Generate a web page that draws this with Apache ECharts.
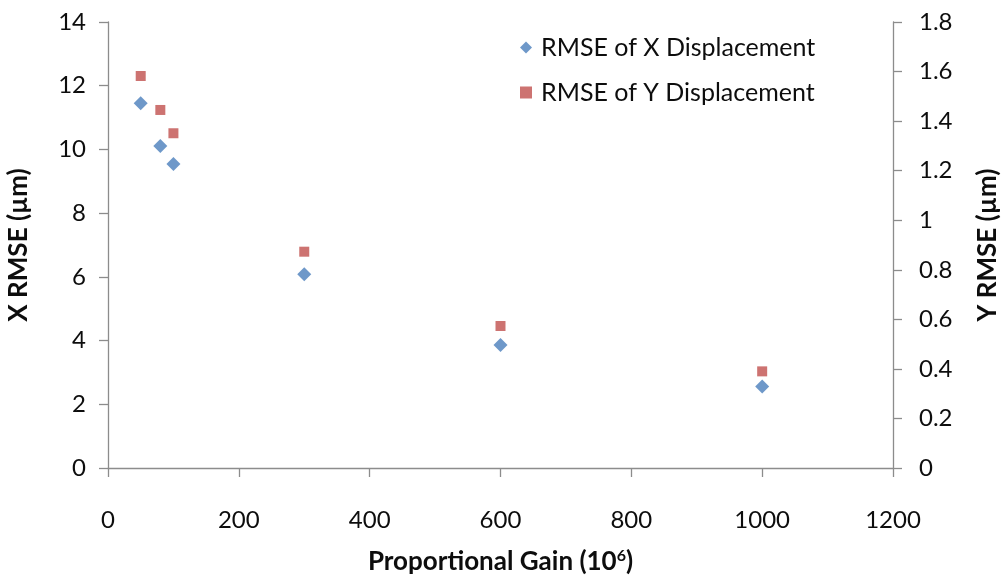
<!DOCTYPE html>
<html>
<head>
<meta charset="utf-8">
<script src="https://cdn.jsdelivr.net/npm/echarts@6/dist/echarts.min.js"></script>
<style>
  html, body { margin: 0; padding: 0; background: #fff; }
  #chart { width: 1007px; height: 579px; }
</style>
</head>
<body>
<div id="chart"></div>
<script>
// Proportional gain (x10^6)
const gains = [50, 80, 100, 300, 600, 1000];
// RMSE of X displacement (µm), left axis
const xRmse = [11.45, 10.11, 9.54, 6.08, 3.86, 2.56];
// RMSE of Y displacement (µm), right axis
const yRmse = [1.582, 1.445, 1.351, 0.873, 0.573, 0.39];

const seriesNames = ['RMSE of X Displacement', 'RMSE of Y Displacement'];

const FONT = 'Lato, "Liberation Sans", sans-serif';
const AXIS_COLOR = '#8c8c8c';
const TEXT_COLOR = '#0d0d0d';

const pairs = (xs, ys) => xs.map((x, i) => [x, ys[i]]);

const axisCommon = {
  axisLine: { show: true, onZero: false, lineStyle: { color: AXIS_COLOR, width: 1.3 } },
  axisTick: { show: true, inside: false, length: 9, lineStyle: { color: AXIS_COLOR, width: 1.3 } },
  splitLine: { show: false },
  axisLabel: { color: TEXT_COLOR, fontFamily: FONT, fontSize: 24 }
};

const titleStyle = { fontFamily: FONT, fontWeight: 'bold', fontSize: 26, color: TEXT_COLOR };

const chart = echarts.init(document.getElementById('chart'));
chart.setOption({
  backgroundColor: '#ffffff',
  animation: false,
  grid: { left: 108, right: 114, top: 22, bottom: 111, containLabel: false, outerBoundsMode: 'none' },
  legend: {
    orient: 'vertical',
    left: 515,
    top: 30,
    itemGap: 20,
    itemWidth: 12,
    itemHeight: 12,
    textStyle: { color: TEXT_COLOR, fontFamily: FONT, fontSize: 25, padding: [0, 0, 0, 4] },
    data: [
      { name: seriesNames[0], icon: 'diamond' },
      { name: seriesNames[1], icon: 'rect' }
    ]
  },
  xAxis: Object.assign({}, axisCommon, {
    type: 'value',
    min: 0,
    max: 1200,
    interval: 200,
    axisLabel: Object.assign({}, axisCommon.axisLabel, { margin: 40, formatter: v => String(v) }),
    name: '{a|Proportional Gain (10}{s|6}{a|)}',
    nameLocation: 'middle',
    nameGap: 80,
    nameTextStyle: {
      rich: {
        a: titleStyle,
        s: { fontFamily: FONT, fontWeight: 'bold', fontSize: 16, color: TEXT_COLOR, verticalAlign: 'top', padding: [0, 0, 12, 0] }
      }
    }
  }),
  yAxis: [
    Object.assign({}, axisCommon, {
      type: 'value',
      position: 'left',
      min: 0,
      max: 14,
      interval: 2,
      axisLabel: Object.assign({}, axisCommon.axisLabel, { margin: 22 }),
      name: 'X RMSE (µm)',
      nameLocation: 'middle',
      nameRotate: 90,
      nameGap: 76,
      nameTextStyle: titleStyle
    }),
    Object.assign({}, axisCommon, {
      type: 'value',
      position: 'right',
      min: 0,
      max: 1.8,
      interval: 0.2,
      axisLabel: Object.assign({}, axisCommon.axisLabel, {
        margin: 26,
        formatter: v => String(+v.toFixed(1))
      }),
      name: 'Y RMSE (µm)',
      nameLocation: 'middle',
      nameRotate: 90,
      nameGap: 82,
      nameTextStyle: titleStyle
    })
  ],
  series: [
    {
      name: seriesNames[0],
      type: 'scatter',
      yAxisIndex: 0,
      symbol: 'diamond',
      symbolSize: 14,
      itemStyle: { color: '#4a7ebb' },
      data: pairs(gains, xRmse)
    },
    {
      name: seriesNames[1],
      type: 'scatter',
      yAxisIndex: 1,
      symbol: 'rect',
      symbolSize: 10,
      itemStyle: { color: '#c0504d' },
      data: pairs(gains, yRmse)
    }
  ]
});
</script>
</body>
</html>
